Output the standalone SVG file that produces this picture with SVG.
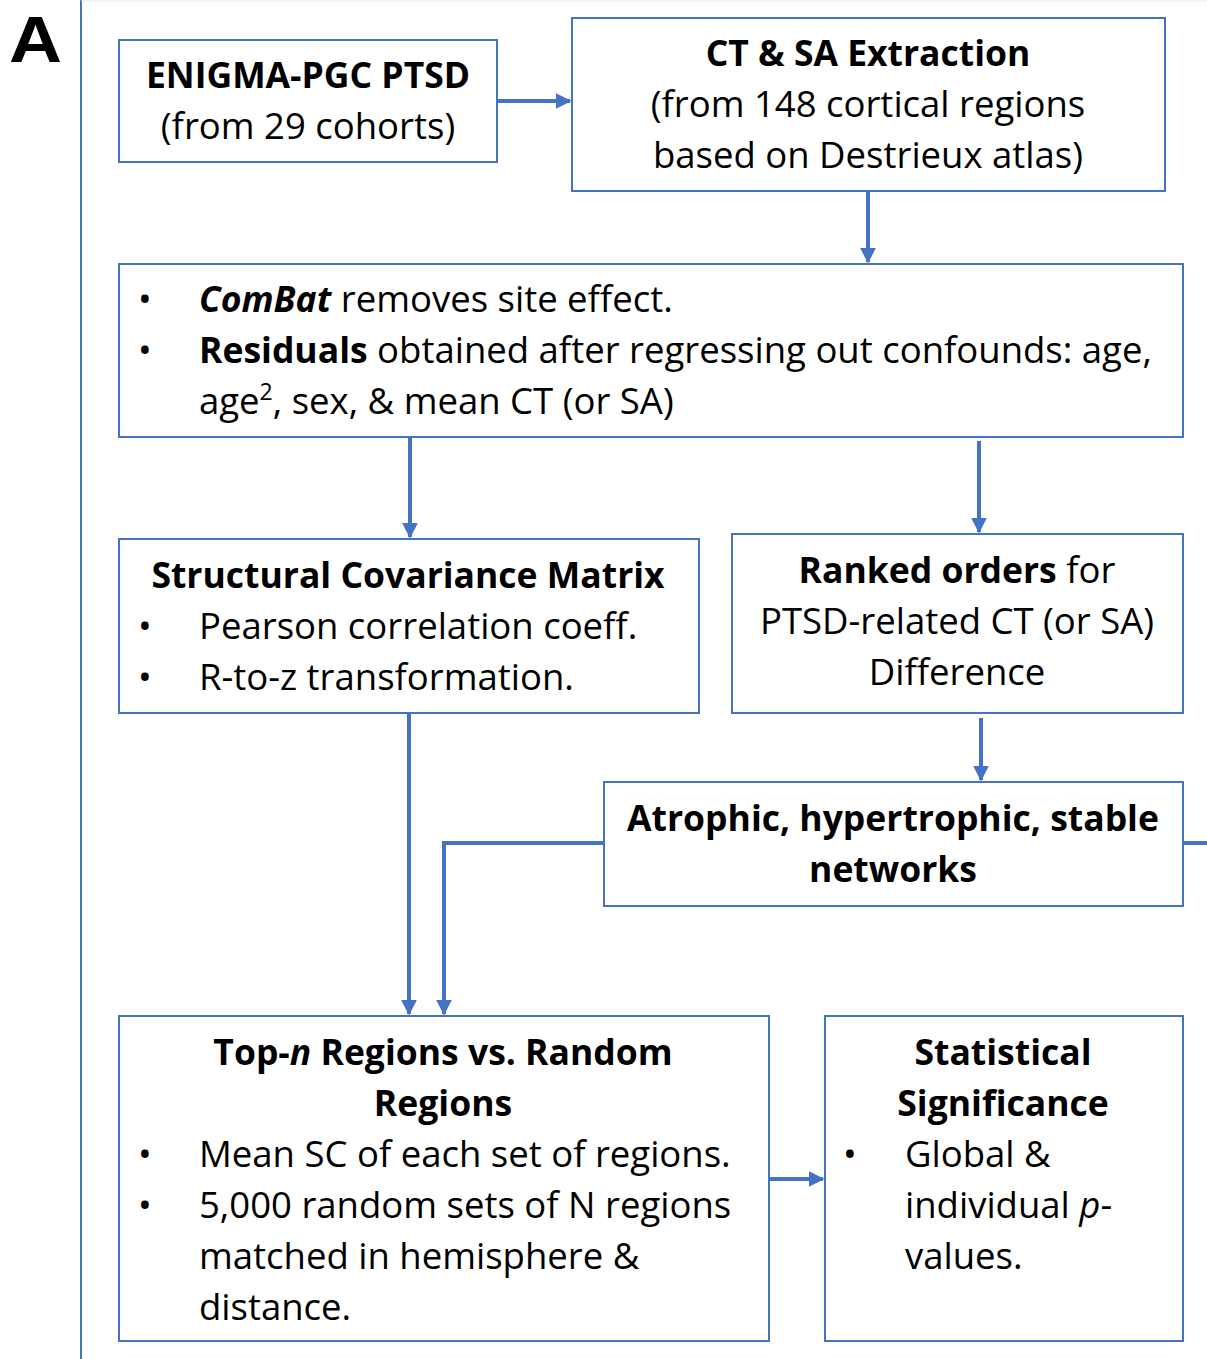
<svg xmlns="http://www.w3.org/2000/svg" width="1207" height="1359" viewBox="0 0 1207 1359">
<defs>
<marker id="ah" viewBox="0 0 10 10" refX="9" refY="5" markerWidth="4" markerHeight="4" markerUnits="strokeWidth" orient="auto">
<path d="M0,0 L10,5 L0,10 z" fill="#4472C4"/>
</marker>
<style>
.box{fill:#fff;stroke:#4472C4;stroke-width:2}
.t{font-family:"Open Sans","Noto Sans",sans-serif;font-size:36.5px;fill:#000}
.b{font-weight:bold;font-size:35.5px}
.c{text-anchor:middle}
.con{fill:none;stroke:#4472C4;stroke-width:4}
</style>
</defs>
<rect width="1207" height="1359" fill="#fff"/>
<text x="9" y="62" font-family="Liberation Sans,Arial,sans-serif" font-weight="bold" font-size="65" fill="#000" textLength="53" lengthAdjust="spacingAndGlyphs">A</text>
<line x1="81" y1="0" x2="81" y2="1359" stroke="#4472C4" stroke-width="2"/>
<line x1="81" y1="1" x2="1207" y2="1" stroke="#e4e8f0" stroke-width="1"/>

<g id="connectors">
<path class="con" d="M497,101 H570" marker-end="url(#ah)"/>
<path class="con" d="M868,191 V262" marker-end="url(#ah)"/>
<path class="con" d="M410,437 V537" marker-end="url(#ah)"/>
<path class="con" d="M979,441 V532" marker-end="url(#ah)"/>
<path class="con" d="M981,718 V780" marker-end="url(#ah)"/>
<path class="con" d="M409,713 V1014" marker-end="url(#ah)"/>
<path class="con" d="M604,843 H444 V1014" marker-end="url(#ah)"/>
<path class="con" d="M1183,843 H1207"/>
<path class="con" d="M769,1179 H823" marker-end="url(#ah)"/>
</g>

<g id="enigma">
<rect class="box" x="119" y="40" width="378" height="122"/>
<text class="t b c" x="308" y="88">ENIGMA-PGC PTSD</text>
<text class="t c" x="308" y="139">(from 29 cohorts)</text>
</g>

<g id="extraction">
<rect class="box" x="572" y="18" width="593" height="173"/>
<text class="t b c" x="868" y="66">CT &amp; SA Extraction</text>
<text class="t c" x="868" y="117">(from 148 cortical regions</text>
<text class="t c" x="868" y="168">based on Destrieux atlas)</text>
</g>

<g id="combat">
<rect class="box" x="119" y="264" width="1064" height="173"/>
<text class="t" x="138" y="312">•</text>
<text class="t" x="199" y="312"><tspan class="b" font-style="italic">ComBat</tspan> removes site effect.</text>
<text class="t" x="138" y="363">•</text>
<text class="t" x="199" y="363"><tspan class="b">Residuals</tspan> obtained after regressing out confounds: age,</text>
<text class="t" x="199" y="414">age<tspan font-size="23" dy="-14">2</tspan><tspan dy="14">, sex, &amp; mean CT (or SA)</tspan></text>
</g>

<g id="covariance">
<rect class="box" x="119" y="539" width="580" height="174"/>
<text class="t b c" x="408" y="588">Structural Covariance Matrix</text>
<text class="t" x="138" y="639">•</text>
<text class="t" x="199" y="639">Pearson correlation coeff.</text>
<text class="t" x="138" y="690">•</text>
<text class="t" x="199" y="690">R-to-z transformation.</text>
</g>

<g id="ranked">
<rect class="box" x="732" y="534" width="451" height="179"/>
<text class="t c" x="957" y="583"><tspan class="b">Ranked orders</tspan> for</text>
<text class="t c" x="957" y="634">PTSD-related CT (or SA)</text>
<text class="t c" x="957" y="685">Difference</text>
</g>

<g id="networks">
<rect class="box" x="604" y="782" width="579" height="124"/>
<text class="t b c" x="893" y="831">Atrophic, hypertrophic, stable</text>
<text class="t b c" x="893" y="882">networks</text>
</g>

<g id="topn">
<rect class="box" x="119" y="1016" width="650" height="325"/>
<text class="t b c" x="443" y="1065">Top-<tspan font-style="italic">n</tspan> Regions vs. Random</text>
<text class="t b c" x="443" y="1116">Regions</text>
<text class="t" x="138" y="1167">•</text>
<text class="t" x="199" y="1167">Mean SC of each set of regions.</text>
<text class="t" x="138" y="1218">•</text>
<text class="t" x="199" y="1218">5,000 random sets of N regions</text>
<text class="t" x="199" y="1269">matched in hemisphere &amp;</text>
<text class="t" x="199" y="1320">distance.</text>
</g>

<g id="significance">
<rect class="box" x="825" y="1016" width="358" height="325"/>
<text class="t b c" x="1003" y="1065">Statistical</text>
<text class="t b c" x="1003" y="1116">Significance</text>
<text class="t" x="843" y="1167">•</text>
<text class="t" x="905" y="1167">Global &amp;</text>
<text class="t" x="905" y="1218">individual <tspan font-style="italic">p</tspan>-</text>
<text class="t" x="905" y="1269">values.</text>
</g>
</svg>
